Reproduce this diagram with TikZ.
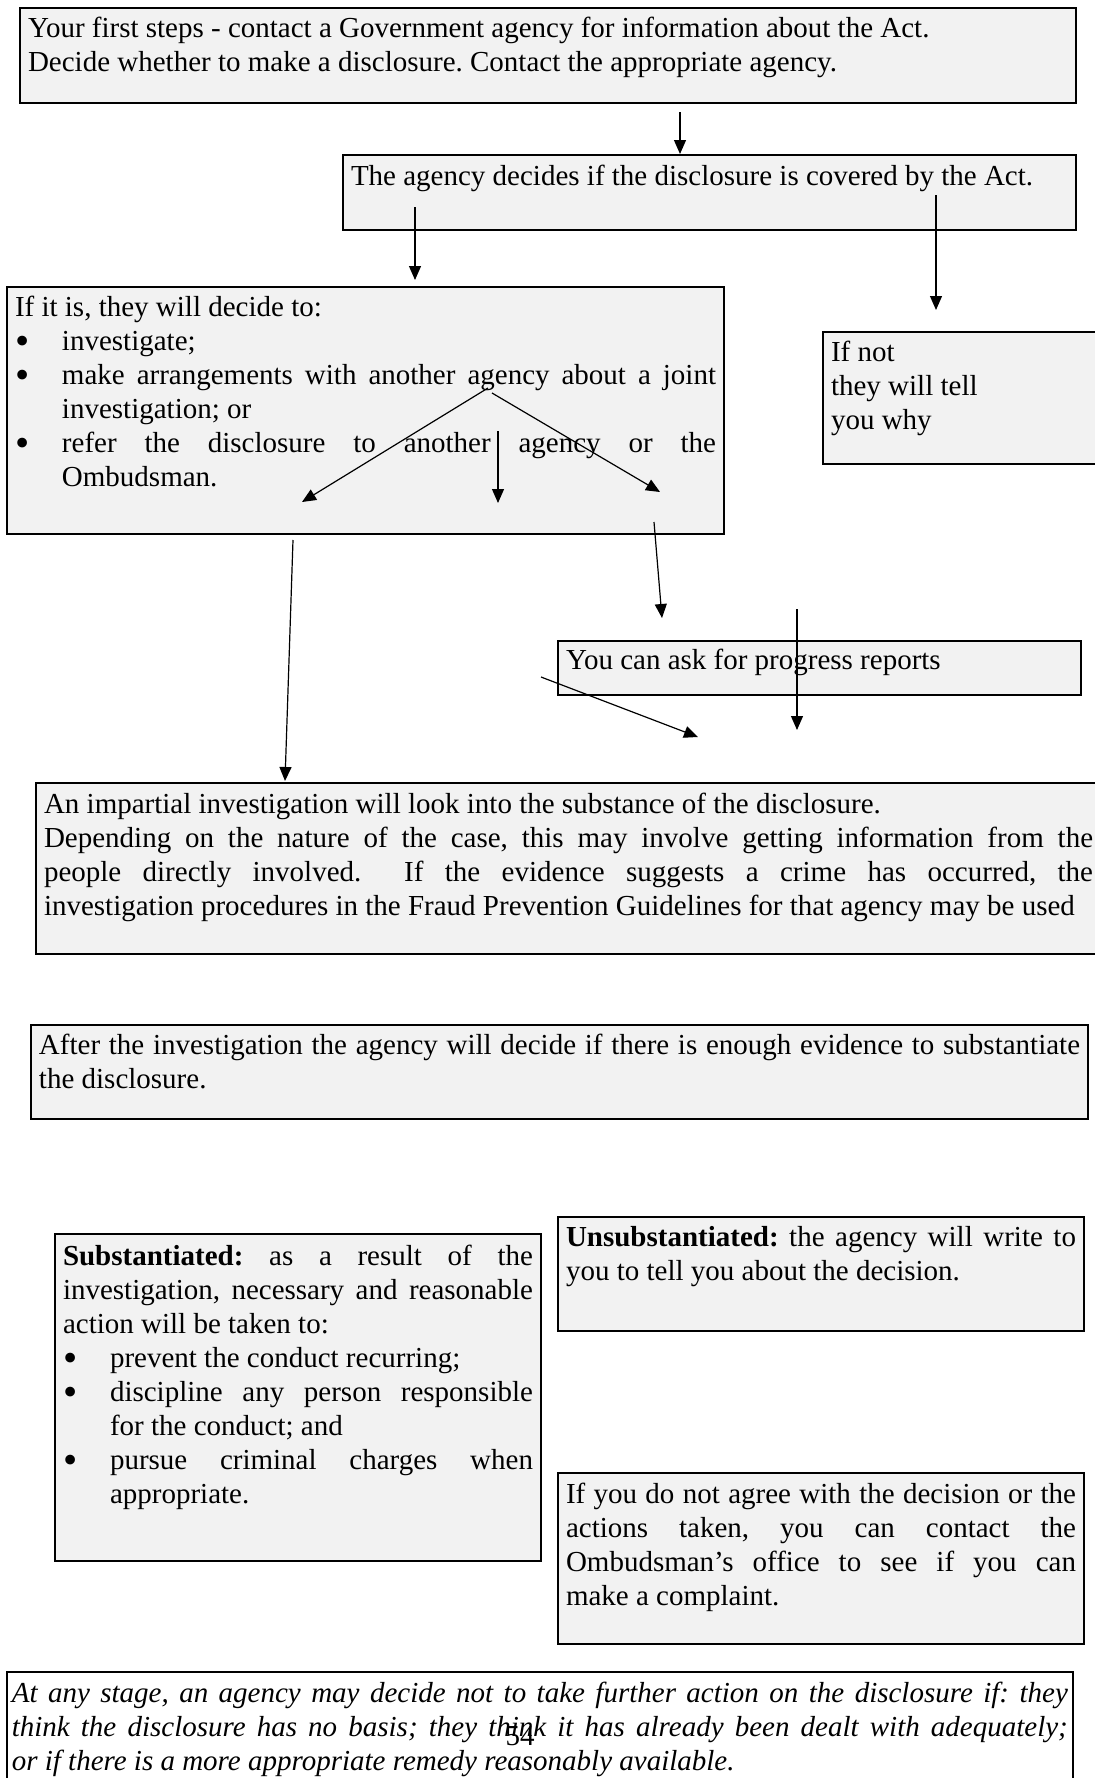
\documentclass[tikz,border=0pt]{standalone}
\usepackage{fontspec}
\setmainfont{Liberation Serif}
\usetikzlibrary{positioning, arrows.meta}

\definecolor{cellgray}{HTML}{F2F2F2}
\newcommand{\celltext}[2]{\parbox[t]{#1}{\sloppy\frenchspacing\hyphenpenalty=10000 \strut #2}}
\newcommand{\bitem}[1]{\par\hangindent=23.5pt\hangafter=1\noindent\makebox[23.5pt][l]{\raisebox{-0.15em}[0pt][0pt]{\scalebox{1.4}{\textbullet}}}#1}

\begin{document}
\begin{tikzpicture}[x=0.5pt, y=-0.5pt,
  cell/.style={rectangle, draw, line width=1pt, fill=cellgray, anchor=north west, inner xsep=4pt, inner ysep=0pt, font=\fontsize{14.5pt}{17pt}\selectfont},
  note/.style={cell, fill=white, line width=0.8pt, inner xsep=2.5pt},
  input/.style={->, >={Triangle[length=7pt, width=6pt]}, line width=0.6pt}]

\useasboundingbox (0,0) rectangle (1095,1778);

\node[cell, text height=14.7pt, text depth=32.8pt] at (19,7) (start) {\celltext{520pt}{Your first steps - contact a Government agency for information about the Act.\newline Decide whether to make a disclosure. Contact the appropriate agency.}};

\node[cell, text height=15pt, text depth=22.5pt] at (342,154) (agency) {\celltext{358.5pt}{The agency decides if the disclosure is covered by the Act.}};

\node[cell, text height=14.5pt, text depth=109pt] at (6,286) (covered) {\celltext{350.5pt}{If it is, they will decide to:
\bitem{investigate;}
\bitem{make arrangements with another agency about a joint\linebreak investigation; or}
\bitem{refer the disclosure to another agency or the\linebreak Ombudsman.}}};

\node[cell, text height=14.5pt, text depth=51.5pt] at (822,331) (notcovered) {\celltext{137pt}{If not\newline they will tell\newline you why}};

\node[cell, text height=14pt, text depth=13pt] at (557,640) (progress) {\celltext{253.5pt}{You can ask for progress reports}};

\node[cell, text height=15pt, text depth=70.5pt] at (35,782) (investigation) {\celltext{524.5pt}{An impartial investigation will look into the substance of the disclosure.\par
Depending on the nature of the case, this may involve getting information from the\linebreak people directly involved.\ \ If the evidence suggests a crime has occurred, the\linebreak \mbox{investigation procedures in the Fraud Prevention Guidelines for that agency may be used}}};

\node[cell, text height=14.5pt, text depth=32.5pt] at (30,1024) (after) {\celltext{520.5pt}{After the investigation the agency will decide if there is enough evidence to substantiate\linebreak the disclosure.}};

\node[cell, text height=15.5pt, text depth=148pt] at (54,1233) (subst) {\celltext{235pt}{\textbf{Substantiated:} as a result of the\linebreak investigation, necessary and reasonable\linebreak action will be taken to:
\bitem{prevent the conduct recurring;}
\bitem{discipline any person responsible\linebreak for the conduct; and}
\bitem{pursue criminal charges when\linebreak appropriate.}}};

\node[cell, text height=14.5pt, text depth=42.5pt] at (557,1216) (unsubst) {\celltext{255pt}{\textbf{Unsubstantiated:} the agency will write to\linebreak you to tell you about the decision.}};

\node[cell, text height=15pt, text depth=70.5pt] at (557,1472) (complaint) {\celltext{255pt}{If you do not agree with the decision or the\linebreak actions taken, you can contact the\linebreak Ombudsman’s office to see if you can\linebreak make a complaint.}};

\node[note, text height=15.5pt, text depth=56pt] at (6,1671) (anystage) {\celltext{528pt}{\itshape At any stage, an agency may decide not to take further action on the disclosure if: they\linebreak think the disclosure has no basis; they think it has already been dealt with adequately;\linebreak or if there is a more appropriate remedy reasonably available.}};

\node[font=\fontsize{14.5pt}{17pt}\selectfont, anchor=base, inner sep=0pt] at (520,1745) (pagenum) {54};

% arrow ends
\coordinate (c1) at (680,112);
\coordinate (c2) at (415,207);
\coordinate (c2e) at (415,280);
\coordinate (c3) at (936,195);
\coordinate (c3e) at (936,310);
\coordinate (forkl) at (488,388);
\coordinate (forkr) at (492,393);
\coordinate (fl) at (302,502);
\coordinate (fr) at (660,492);
\coordinate (c4) at (498,431);
\coordinate (c4e) at (498,503);
\coordinate (c5) at (293,540);
\coordinate (c5e) at (285,781);
\coordinate (c6) at (654,522);
\coordinate (c6e) at (662,618);
\coordinate (c7) at (541,677);
\coordinate (c7e) at (698,737);
\coordinate (c8) at (797,609);
\coordinate (c8e) at (797,730);

\draw[input] (c1) -- (c1 |- agency.north);
\draw[input] (c2) -- (c2e);
\draw[input] (c3) -- (c3e);

\draw[input] (forkl) -- (fl);
\draw[input] (forkr) -- (fr);
\draw[input] (c4) -- (c4e);

\draw[input] (c5) -- (c5e);
\draw[input] (c6) -- (c6e);
\draw[input] (c7) -- (c7e);
\draw[input] (c8) -- (c8e);
\end{tikzpicture}
\end{document}
